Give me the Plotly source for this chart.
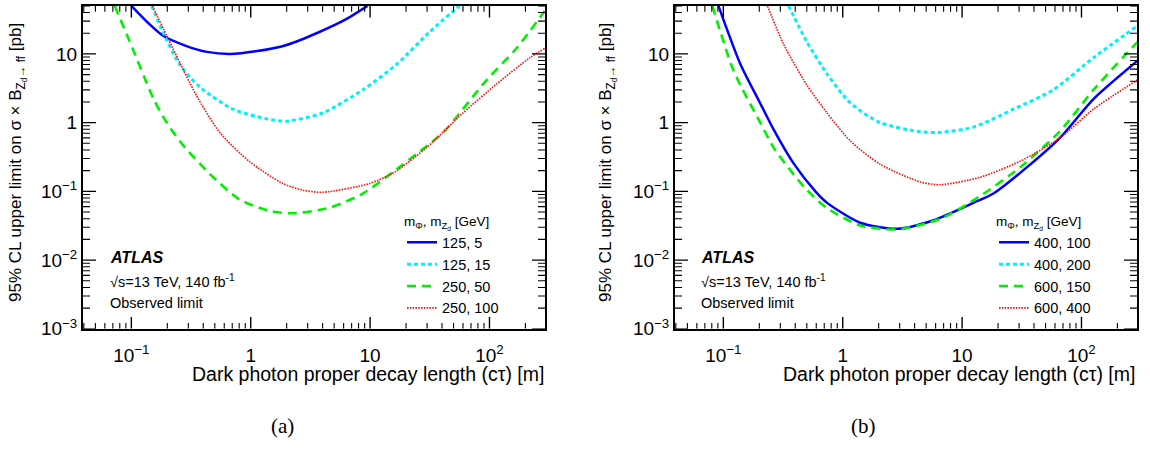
import plotly.graph_objects as go

# ---------------- data ----------------
# panel (a)
a_labels = ["125, 5", "125, 15", "250, 50", "250, 100"]
a_blue_x = [0.1, 0.142, 0.183, 0.29, 0.43, 0.67, 1.1, 2.0, 3.8, 6.3, 9.5]
a_blue_y = [50, 27, 18.5, 13, 10.7, 10, 10.9, 13.5, 21, 32, 50]
a_cyan_x = [0.148, 0.183, 0.254, 0.374, 0.71, 1.35, 2.0, 4.0, 8.7, 16.6, 31.6, 56]
a_cyan_y = [50, 21, 7.0, 3.3, 1.57, 1.14, 1.05, 1.38, 3.0, 7.0, 21, 50]
a_green_x = [0.0726, 0.102, 0.142, 0.157, 0.198, 0.27, 0.453, 0.807, 1.44, 2.25, 4.6, 8.7, 15.5, 29.5, 41, 95, 169, 290]
a_green_y = [50, 12.2, 3.0, 2.04, 1.0, 0.474, 0.18, 0.076, 0.052, 0.048, 0.058, 0.093, 0.19, 0.45, 0.72, 4.2, 12.2, 42]
a_red_x = [0.15, 0.222, 0.35, 0.55, 0.98, 1.86, 2.74, 4.0, 9.9, 16, 30.2, 60, 115, 218, 290]
a_red_y = [50, 12.2, 2.5, 0.72, 0.27, 0.13, 0.104, 0.097, 0.13, 0.19, 0.445, 1.38, 3.66, 8.8, 12]

# panel (b)
b_labels = ["400, 100", "400, 200", "600, 150", "600, 400"]
b_blue_x = [0.091, 0.139, 0.204, 0.264, 0.385, 0.59, 0.74, 1.4, 2.86, 5.75, 12.4, 18.3, 35, 66, 126, 295]
b_blue_y = [50, 7.07, 1.9, 0.79, 0.26, 0.1, 0.068, 0.035, 0.0285, 0.038, 0.068, 0.093, 0.225, 0.6, 2.2, 7.95]
b_cyan_x = [0.352, 0.5, 0.74, 1.16, 2.06, 4.2, 6.4, 12.4, 27, 58, 126, 295]
b_cyan_y = [50, 15.1, 5.1, 1.93, 1.0, 0.75, 0.72, 0.86, 1.57, 3.0, 8.8, 25.7]
b_green_x = [0.081, 0.116, 0.139, 0.204, 0.264, 0.385, 0.5, 0.74, 1.4, 2.9, 6.6, 14.1, 30.7, 66, 126, 295]
b_green_y = [50, 7.07, 3.5, 1.0, 0.43, 0.18, 0.105, 0.057, 0.032, 0.028, 0.04, 0.085, 0.225, 0.75, 3.0, 15]
b_red_x = [0.234, 0.32, 0.5, 0.74, 1.16, 2.06, 4.47, 6.6, 14.1, 30.7, 66, 126, 295]
b_red_y = [50, 13.8, 3.54, 1.38, 0.54, 0.248, 0.137, 0.125, 0.16, 0.275, 0.6, 1.57, 4.2]

x_tickvals = [0.1, 1, 10, 100]
x_ticktext = ["10<sup>\u22121</sup>", "1", "10", "10<sup>2</sup>"]
y_tickvals = [0.001, 0.01, 0.1, 1, 10]
y_ticktext = ["10<sup>\u22123</sup>", "10<sup>\u22122</sup>", "10<sup>\u22121</sup>", "1", "10"]

# ---------------- styling ----------------
W, H = 1150, 454
FONT = "Liberation Sans, Arial, Helvetica, sans-serif"
SERIF = "Liberation Serif, Times New Roman, serif"

styles = [
    dict(color="#0000ff", width=2.5, dash="solid"),
    dict(color="#00f0ff", width=3, dash="4px,3px"),
    dict(color="#00f000", width=2.6, dash="9px,6px"),
    dict(color="#ff1010", width=1.6, dash="1.6px,1.2px"),
]

def px(x):
    return x / W

def py(y):
    return 1 - y / H

xr = [-1.405, 2.465]
yr = [-3, 1.699]
PLOT_W, PLOT_H = 462.0, 331.0
dom_y = [py(337), py(6)]
dom_xa = [px(83), px(545)]
dom_xb = [px(675), px(1137)]

# minor tick positions (2..9 in every decade inside the ranges)
x_minor = [m * 10.0 ** d for d in range(-2, 3) for m in range(2, 10) if 0.04 <= m * 10.0 ** d <= 300]
y_minor = [m * 10.0 ** d for d in range(-3, 2) for m in range(2, 10) if m * 10.0 ** d <= 50]


def tick_path(xvals, yvals, len_x, len_y):
    """Inside tick marks on all four sides, expressed in the axes' own (log) scale."""
    xs, ys = [], []
    ylo, yhi = yr
    xlo, xhi = xr
    d = len_x / PLOT_H * (yhi - ylo)
    for v in xvals:
        xs += [v, v, None, v, v, None]
        ys += [10 ** ylo, 10 ** (ylo + d), None, 10 ** yhi, 10 ** (yhi - d), None]
    d = len_y / PLOT_W * (xhi - xlo)
    for v in yvals:
        xs += [10 ** xlo, 10 ** (xlo + d), None, 10 ** xhi, 10 ** (xhi - d), None]
        ys += [v, v, None, v, v, None]
    return xs, ys


fig = go.Figure()

panels = [
    ([(a_blue_x, a_blue_y), (a_cyan_x, a_cyan_y), (a_green_x, a_green_y), (a_red_x, a_red_y)], a_labels,
     "x", "y", "legend"),
    ([(b_blue_x, b_blue_y), (b_cyan_x, b_cyan_y), (b_green_x, b_green_y), (b_red_x, b_red_y)], b_labels,
     "x2", "y2", "legend2"),
]
major_x, major_y = tick_path(x_tickvals, y_tickvals, 12, 13)
minor_xs, minor_ys = tick_path(x_minor, y_minor, 6, 7)
for series, labels, xa, ya, lg in panels:
    for (xs, ys), lab, st in zip(series, labels, styles):
        fig.add_trace(go.Scatter(
            x=xs, y=ys, mode="lines", name=lab, xaxis=xa, yaxis=ya, legend=lg,
            line=dict(color=st["color"], width=st["width"], dash=st["dash"], shape="spline", smoothing=0.7),
            hoverinfo="skip",
        ))
    for (txs, tys, wd) in [(major_x, major_y, 1.4), (minor_xs, minor_ys, 1.1)]:
        fig.add_trace(go.Scatter(
            x=txs, y=tys, mode="lines", xaxis=xa, yaxis=ya, showlegend=False, hoverinfo="skip",
            line=dict(color="black", width=wd), connectgaps=False, cliponaxis=False,
        ))

def xaxis_cfg(dom, anchor):
    return dict(
        type="log", range=xr, domain=dom, anchor=anchor, tickmode="array", tickvals=x_tickvals, ticktext=x_ticktext,
        ticks="", showline=True, linewidth=2, linecolor="black", mirror=True,
        showgrid=False, zeroline=False, ticklabelstandoff=8,
        tickfont=dict(family=FONT, size=19, color="black"),
    )

def yaxis_cfg(dom, anchor):
    return dict(
        type="log", range=yr, domain=dom, anchor=anchor, tickmode="array", tickvals=y_tickvals, ticktext=y_ticktext,
        ticks="", showline=True, linewidth=2, linecolor="black", mirror=True,
        showgrid=False, zeroline=False, ticklabelstandoff=0,
        tickfont=dict(family=FONT, size=19, color="black"),
    )

legend_common = dict(
    bgcolor="rgba(0,0,0,0)", borderwidth=0, font=dict(family=FONT, size=14.5, color="black"),
    xanchor="left", yanchor="top", tracegroupgap=0, itemwidth=30,
    title=dict(text="m<sub>\u03a6</sub>, m<sub>Z<sub>d</sub></sub> [GeV]", font=dict(family=FONT, size=13.5, color="black")),
)

fig.update_layout(
    width=W, height=H, margin=dict(l=0, r=0, t=0, b=0),
    paper_bgcolor="white", plot_bgcolor="white",
    xaxis=xaxis_cfg(dom_xa, "y"),
    yaxis=yaxis_cfg(dom_y, "x"),
    xaxis2=xaxis_cfg(dom_xb, "y2"),
    yaxis2=yaxis_cfg(dom_y, "x2"),
    legend=dict(**legend_common, x=px(402), y=py(214)),
    legend2=dict(**legend_common, x=px(994), y=py(214)),
    showlegend=True,
)

ytitle = "95% CL upper limit on \u03c3 \u00d7 B<sub>Z<sub>d</sub>\u2192 ff</sub> [pb]"
xtitle = "Dark photon proper decay length (c\u03c4) [m]"
ann = []
for (ytx, xtr, capx, capt, atx) in [(18, 546, 282, "(a)", 108), (608, 1137, 864, "(b)", 699)]:
    ann.append(dict(text=ytitle, x=px(ytx), y=py(167), xref="paper", yref="paper", textangle=-90,
                    showarrow=False, xanchor="center", yanchor="middle",
                    font=dict(family=FONT, size=17, color="black")))
    ann.append(dict(text=xtitle, x=px(xtr), y=py(383), xref="paper", yref="paper",
                    showarrow=False, xanchor="right", yanchor="middle",
                    font=dict(family=FONT, size=19.5, color="black")))
    ann.append(dict(text=capt, x=px(capx), y=py(437), xref="paper", yref="paper",
                    showarrow=False, xanchor="center", yanchor="middle",
                    font=dict(family=SERIF, size=21, color="black")))
    ann.append(dict(text="<b><i>ATLAS</i></b>", x=px(atx), y=py(264), xref="paper", yref="paper",
                    showarrow=False, xanchor="left", yanchor="middle",
                    font=dict(family=FONT, size=16, color="black")))
    ann.append(dict(text="\u221as=13 TeV, 140 fb<sup>-1</sup>", x=px(atx), y=py(288), xref="paper", yref="paper",
                    showarrow=False, xanchor="left", yanchor="middle",
                    font=dict(family=FONT, size=14.5, color="black")))
    ann.append(dict(text="Observed limit", x=px(atx), y=py(311), xref="paper", yref="paper",
                    showarrow=False, xanchor="left", yanchor="middle",
                    font=dict(family=FONT, size=14.5, color="black")))
fig.update_layout(annotations=ann)

fig.write_html("out.html")
